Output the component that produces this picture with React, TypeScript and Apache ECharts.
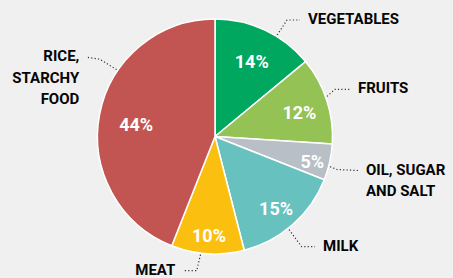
import React, { useEffect, useRef } from 'react';
import * as echarts from 'echarts';

// ---- data ----
const categories = ['VEGETABLES', 'FRUITS', 'OIL, SUGAR\nAND SALT', 'MILK', 'MEAT', 'RICE,\nSTARCHY\nFOOD'];
const shares = [14, 12, 5, 15, 10, 44];
const sliceColors = ['#00a85f', '#94c255', '#b8bfc6', '#67c1bf', '#fbbf10', '#c25451'];

// ---- layout / style ----
const W = 453;
const H = 278;
const CX = 215;
const CY = 136.5;
const R = 117.5;
const LINE_H = 21.5;
const FONT = 'Roboto, "Liberation Sans", sans-serif';

// dotted leader: start angle on rim, elbow and end offsets from pie centre
const guides = [
  { a: 58.5, elbow: [72, -116.5], end: [85, -116.5] },
  { a: 19.7, elbow: [120, -47.2], end: [135, -47.2] },
  { a: -14.7, elbow: [122, 33], end: [143, 34] },
  { a: -51.5, elbow: [86.7, 110.2], end: [100, 110.2] },
  { a: -97, elbow: [-18.3, 134.2], end: [-31.7, 134.2] },
  { a: 145.8, elbow: [-115, -77.2], end: [-127.7, -79.2] },
];
// radial position of the percentage labels (fraction of radius)
const innerRadial = [0.71, 0.73, 0.82, 0.76, 0.79, 0.66];

export default function App() {
  const ref = useRef<HTMLDivElement>(null);
  useEffect(() => {
    if (!ref.current) return;
    const chart = echarts.init(ref.current, null, { renderer: 'svg' });
    const data = categories.map((name, i) => ({
      name,
      value: shares[i],
      itemStyle: { color: sliceColors[i] },
    }));
    const DEFAULT_IN = 0.74;
    chart.setOption({
      animation: false,
      backgroundColor: '#f0f0f0',
      series: [
        {
          type: 'pie',
          center: [CX, CY],
          radius: R,
          startAngle: 90,
          clockwise: true,
          avoidLabelOverlap: false,
          silent: true,
          itemStyle: { borderColor: '#ffffff', borderWidth: 1.5 },
          label: {
            show: true,
            formatter: '{b}',
            color: '#050505',
            fontFamily: FONT,
            fontWeight: 'bold',
            fontSize: 15,
            lineHeight: LINE_H,
          },
          labelLine: {
            show: true,
            length: 10,
            length2: 10,
            smooth: false,
            lineStyle: { color: '#333333', width: 1.2, type: [1.2, 2.2] },
          },
          labelLayout: (p: any) => {
            const g = guides[p.dataIndex];
            const rad = (g.a * Math.PI) / 180;
            const sx = CX + (R + 1.5) * Math.cos(rad);
            const sy = CY - (R + 1.5) * Math.sin(rad);
            const ex = CX + g.elbow[0];
            const ey = CY + g.elbow[1];
            const tx = CX + g.end[0];
            const ty = CY + g.end[1];
            const right = g.end[0] > g.elbow[0];
            return {
              x: tx + (right ? 8 : -8),
              y: ty - 1 - LINE_H / 2,
              align: right ? 'left' : 'right',
              verticalAlign: 'top',
              labelLinePoints: [
                [sx, sy],
                [ex, ey],
                [tx, ty],
              ],
            };
          },
          data,
        },
        {
          type: 'pie',
          center: [CX, CY],
          radius: [R * (2 * DEFAULT_IN - 1), R],
          startAngle: 90,
          clockwise: true,
          silent: true,
          avoidLabelOverlap: false,
          itemStyle: { color: 'rgba(0,0,0,0)', borderWidth: 0 },
          label: {
            show: true,
            position: 'inside',
            formatter: '{c}%',
            color: '#ffffff',
            fontFamily: FONT,
            fontWeight: 'bold',
            fontSize: 18,
          },
          labelLine: { show: false },
          labelLayout: (p: any) => {
            const lr = p.labelRect;
            const mx = lr.x + lr.width / 2;
            const my = lr.y + lr.height / 2;
            const k = innerRadial[p.dataIndex] / DEFAULT_IN;
            return {
              x: CX + (mx - CX) * k,
              y: CY + (my - CY) * k + 3,
              align: 'center',
              verticalAlign: 'middle',
            };
          },
          data: categories.map((name, i) => ({ name, value: shares[i] })),
        },
      ],
    });
    return () => chart.dispose();
  }, []);
  return (
    <div
      ref={ref}
      style={{ position: 'absolute', left: 0, top: 0, width: W, height: H }}
    />
  );
}
